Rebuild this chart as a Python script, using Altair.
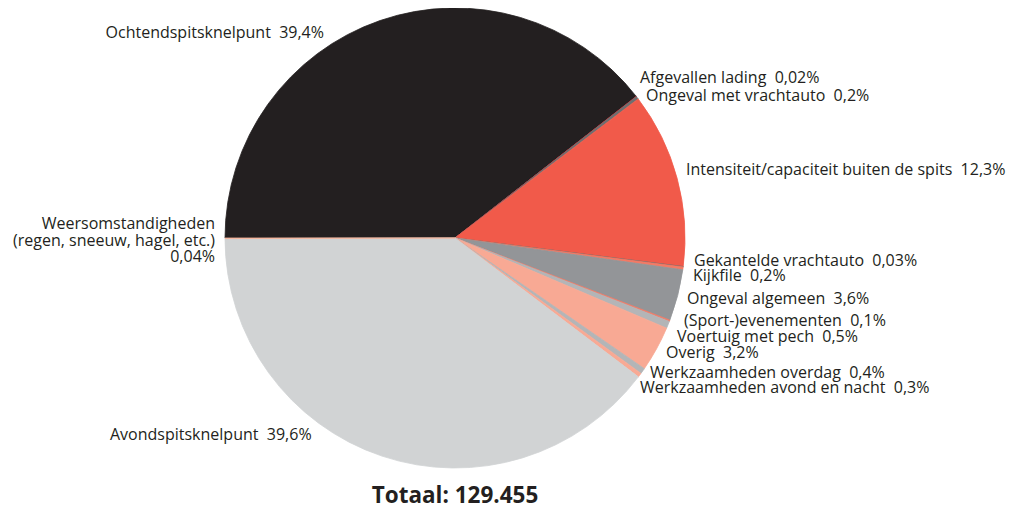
import math
import altair as alt
import pandas as pd

categories = [
    "Ochtendspitsknelpunt",
    "Afgevallen lading",
    "Ongeval met vrachtauto",
    "Intensiteit/capaciteit buiten de spits",
    "Gekantelde vrachtauto",
    "Kijkfile",
    "Ongeval algemeen",
    "(Sport-)evenementen",
    "Voertuig met pech",
    "Overig",
    "Werkzaamheden overdag",
    "Werkzaamheden avond en nacht",
    "Avondspitsknelpunt",
    "Weersomstandigheden",
]
shares = [39.4, 0.02, 0.2, 12.3, 0.03, 0.2, 3.6, 0.1, 0.5, 3.2, 0.4, 0.3, 39.6, 0.04]
share_text = ["39,4%", "0,02%", "0,2%", "12,3%", "0,03%", "0,2%", "3,6%", "0,1%",
              "0,5%", "3,2%", "0,4%", "0,3%", "39,6%", "0,04%"]
colors = ["#231f20", "#e31e24", "#6d6e70", "#f15a4a", "#6d6e70", "#f47a65", "#939598",
          "#f47a65", "#b3b5b7", "#f8a994", "#b3b5b7", "#f8a994", "#d1d3d4", "#f8b8a0"]

# label layout (annotation anchors in view pixels)
label_x = [316, 632, 638, 678, 686, 685, 679, 676, 669, 658, 642, 632, 102, 207]
label_y = [25, 70, 88, 162, 253, 268, 291, 313, 329, 345, 365, 380, 427, 216]
label_align = ["right", "left", "left", "left", "left", "left", "left", "left",
               "left", "left", "left", "left", "left", "right"]

NB = "\u00a0 "
labels = []
for c, t in zip(categories, share_text):
    if c == "Weersomstandigheden":
        labels.append("Weersomstandigheden\n(regen, sneeuw, hagel, etc.)\u00a0\n" + t)
    else:
        labels.append(c + NB + t)

df = pd.DataFrame({
    "category": categories,
    "share": shares,
    "order": list(range(len(categories))),
    "label": labels,
    "lx": label_x,
    "ly": label_y,
    "align": label_align,
})

CX, CY, R = 447, 230, 230
FONT = "Open Sans"
FS = 16

pie = alt.Chart(df).mark_arc(radius=R, strokeWidth=0.8).encode(
    theta=alt.Theta("share:Q", stack=True,
                    scale=alt.Scale(range=[1.5 * math.pi, 3.5 * math.pi])),
    color=alt.Color("category:N", scale=alt.Scale(domain=categories, range=colors), legend=None),
    stroke=alt.Color("category:N", scale=alt.Scale(domain=categories, range=colors), legend=None),
    order=alt.Order("order:Q"),
    x=alt.value(CX),
    y=alt.value(CY),
)

text_left = alt.Chart(df[df["align"] == "left"]).mark_text(
    align="left", baseline="middle", font=FONT, fontSize=FS, color="#231f20", lineBreak="\n"
).encode(
    x=alt.X("lx:Q", scale=None), y=alt.Y("ly:Q", scale=None), text="label:N"
)
text_right = alt.Chart(df[df["align"] == "right"]).mark_text(
    align="right", baseline="middle", font=FONT, fontSize=FS, color="#231f20",
    lineBreak="\n", lineHeight=16.5
).encode(
    x=alt.X("lx:Q", scale=None), y=alt.Y("ly:Q", scale=None), text="label:N"
)

title = alt.Chart(pd.DataFrame({"t": ["Totaal: 129.455"]})).mark_text(
    align="center", baseline="alphabetic", font=FONT, fontSize=22.5, fontWeight="bold",
    color="#231f20"
).encode(x=alt.value(CX), y=alt.value(495), text="t:N")

chart = alt.layer(pie, text_left, text_right, title).properties(
    width=1005, height=498,
    autosize=alt.AutoSizeParams(type="none"),
    padding=0,
    background="white",
).configure_view(stroke=None)

chart.save("out.html", embed_options={"renderer": "svg", "actions": False})
